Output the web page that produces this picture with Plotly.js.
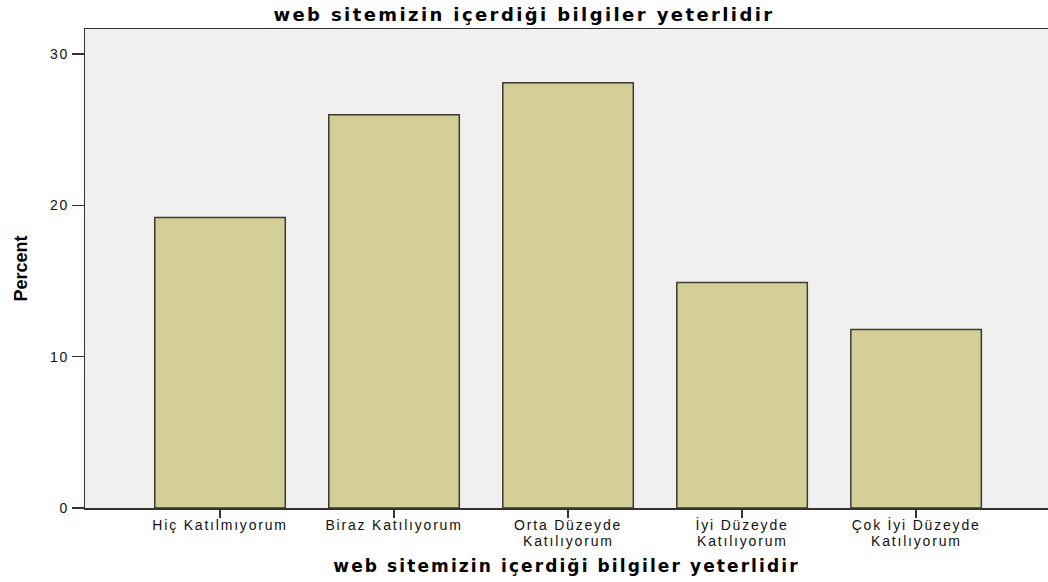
<!DOCTYPE html>
<html>
<head>
<meta charset="utf-8">
<script src="https://cdn.plot.ly/plotly-3.0.1.min.js"></script>
<style>
html,body{margin:0;padding:0;background:#fff;}
#chart{width:1048px;height:582px;}
#chart .gtitle{letter-spacing:2.4px;}
#chart .xtitle{letter-spacing:2.1px;}
#chart .xtick text, #chart .annotation-text{letter-spacing:1.8px;}
#chart .ytick text{letter-spacing:1.5px;}
</style>
</head>
<body>
<div id="chart"></div>
<script>
const categories = ["Hiç Katılmıyorum", "Biraz Katılıyorum", "Orta Düzeyde Katılıyorum", "İyi Düzeyde Katılıyorum", "Çok İyi Düzeyde Katılıyorum"];
const tickLine1 = ["Hiç Katılmıyorum", "Biraz Katılıyorum", "Orta Düzeyde", "İyi Düzeyde", "Çok İyi Düzeyde"];
const tickLine2 = ["", "", "Katılıyorum", "Katılıyorum", "Katılıyorum"];
const percent = [19.2, 26.0, 28.1, 14.9, 11.8];
const yTicks = [0, 10, 20, 30];

const tickFont = {family: 'Liberation Sans, Arial', size: 14, color: '#111'};

const trace = {
  type: 'bar',
  x: categories,
  y: percent,
  width: 0.75,
  marker: {color: '#d3cf96', line: {color: '#3a3a33', width: 1.5}},
  hoverinfo: 'x+y'
};

const annotations = categories.map((c, i) => ({
  x: c, xref: 'x', y: 0, yref: 'paper',
  text: tickLine2[i], showarrow: false,
  yanchor: 'middle', xanchor: 'center', yshift: -33,
  font: tickFont
})).filter(a => a.text);

const layout = {
  width: 1048, height: 582,
  margin: {l: 85, r: 0, t: 29, b: 74},
  paper_bgcolor: '#ffffff',
  plot_bgcolor: '#f0f0f0',
  showlegend: false,
  annotations: annotations,
  title: {
    text: 'web sitemizin içerdiği bilgiler yeterlidir',
    font: {family: 'DejaVu Sans', size: 18, color: '#000', weight: 'bold'},
    x: 0.5, xref: 'container', xanchor: 'center', y: 0.975, yanchor: 'middle'
  },
  xaxis: {
    type: 'category',
    categoryarray: categories,
    tickvals: categories,
    ticktext: tickLine1,
    range: [-0.776, 4.758],
    showline: true, linecolor: '#333', linewidth: 1.5, mirror: true,
    ticks: 'outside', ticklen: 8, tickcolor: '#333', tickwidth: 1.5,
    ticklabelstandoff: -4,
    showgrid: false, zeroline: false,
    tickfont: tickFont,
    title: {
      text: 'web sitemizin içerdiği bilgiler yeterlidir',
      font: {family: 'DejaVu Sans', size: 17, color: '#000', weight: 'bold'},
      standoff: 28
    }
  },
  yaxis: {
    range: [0, 31.66],
    tickvals: yTicks,
    showline: true, linecolor: '#333', linewidth: 1.5,
    ticks: 'outside', ticklen: 12, tickcolor: '#333', tickwidth: 1.5,
    showgrid: false, zeroline: false,
    tickfont: tickFont,
    title: {
      text: 'Percent',
      font: {family: 'Liberation Sans Narrow, Liberation Sans, Arial', size: 18, color: '#000', weight: 'bold'},
      standoff: 21
    }
  }
};

Plotly.newPlot('chart', [trace], layout, {displayModeBar: false, staticPlot: true});
</script>
</body>
</html>
